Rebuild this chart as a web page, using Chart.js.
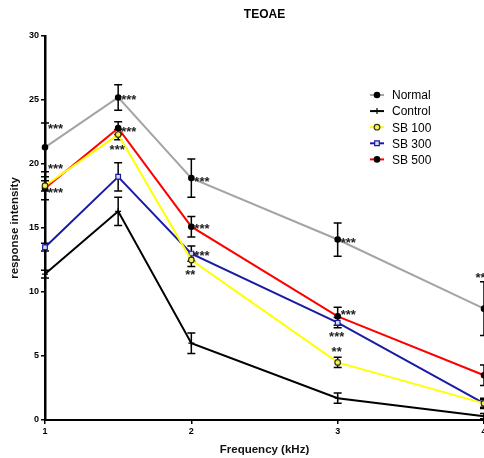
<!DOCTYPE html>
<html>
<head>
<meta charset="utf-8">
<script src="https://cdn.jsdelivr.net/npm/chart.js@4"></script>
<style>
  html, body { margin: 0; padding: 0; background: #fff; overflow: hidden; }
  #wrap { width: 494px; height: 458px; }
</style>
</head>
<body>
<div id="wrap"><canvas id="teoae-chart" width="494" height="458"></canvas></div>
<script>
// Frequencies (kHz) and group means / SEM
const freqs = [1, 1.5, 2, 3, 4];
const normal = [21.3, 25.2, 18.9, 14.1, 8.7];
const normalErr = [1.9, 1.0, 1.5, 1.3, 2.1];
const control = [11.4, 16.3, 6.0, 1.7, 0.3];
const controlErr = [0.3, 1.1, 0.8, 0.4, 0.2];
const sb100 = [18.3, 22.3, 12.5, 4.5, 1.3];
const sb100Err = [0.4, 0.4, 0.5, 0.4, 0.3];
const sb300 = [13.5, 19.0, 13.0, 7.6, 1.3];
const sb300Err = [0.3, 1.1, 0.6, 0.4, 0.4];
const sb500 = [18.1, 22.8, 15.1, 8.1, 3.5];
const sb500Err = [0.9, 0.5, 0.8, 0.7, 0.8];

const seriesNames = ['Normal', 'Control', 'SB 100', 'SB 300', 'SB 500'];
const yTicks = [0, 5, 10, 15, 20, 25, 30];
const xTicks = [1, 2, 3, 4];

// significance marks
const starX = [1, 1, 1, 1.5, 1.5, 1.5, 2, 2, 2, 2, 3, 3, 3, 3, 4];
const starY = [23.0, 19.9, 18.0, 25.3, 22.8, 21.4, 18.9, 15.2, 13.1, 11.6, 14.1, 8.5, 6.8, 5.6, 11.4];
const starText = ['***', '***', '***', '***', '***', '***', '***', '***', '***', '**', '***', '***', '***', '**', '***'];
const starSide = ['right', 'right', 'right', 'right', 'right', 'below', 'right', 'right', 'right', 'below', 'right', 'right', 'below', 'below', 'below'];

const FONT = "'Liberation Sans', Arial, sans-serif";

const toXY = (ys) => ys.map((y, i) => ({ x: freqs[i], y }));

const styles = [
    { color: '#a4a4a4', point: 'circle', bg: '#000', border: '#000', r: 2.7 },
    { color: '#000000', point: 'cross', bg: '#000', border: '#000', r: 3 },
    { color: '#ffff00', point: 'circle', bg: '#f4f060', border: '#333300', r: 2.8 },
    { color: '#1a1aa6', point: 'rect', bg: '#d8d8f0', border: '#1a1aa6', r: 3.3 },
    { color: '#ff0000', point: 'circle', bg: '#000', border: '#000', r: 2.7 }
];
const values = [normal, control, sb100, sb300, sb500];
const errors = [normalErr, controlErr, sb100Err, sb300Err, sb500Err];

const datasets = values.map((vals, idx) => ({
    label: seriesNames[idx],
    data: toXY(vals),
    errs: errors[idx],
    borderColor: styles[idx].color,
    borderWidth: 2,
    pointStyle: styles[idx].point,
    pointRadius: styles[idx].r,
    pointBackgroundColor: styles[idx].bg,
    pointBorderColor: styles[idx].border,
    pointBorderWidth: 1.2,
    tension: 0,
    clip: false
}));

const errorBars = {
    id: 'errorBars',
    beforeDatasetsDraw(chart) {
        const { ctx, scales: { x, y } } = chart;
        ctx.save();
        ctx.strokeStyle = '#000';
        ctx.lineWidth = 1.5;
        chart.data.datasets.forEach(ds => {
            ds.data.forEach((p, i) => {
                const e = ds.errs[i];
                const px = x.getPixelForValue(p.x);
                const top = y.getPixelForValue(p.y + e);
                const bot = y.getPixelForValue(Math.max(0, p.y - e));
                ctx.beginPath();
                ctx.moveTo(px, top); ctx.lineTo(px, bot);
                ctx.moveTo(px - 4, top); ctx.lineTo(px + 4, top);
                ctx.moveTo(px - 4, bot); ctx.lineTo(px + 4, bot);
                ctx.stroke();
            });
        });
        ctx.restore();
    }
};

const starMarks = {
    id: 'starMarks',
    afterDatasetsDraw(chart) {
        const { ctx, scales: { x, y } } = chart;
        ctx.save();
        ctx.fillStyle = '#222';
        ctx.font = `bold 13px ${FONT}`;
        ctx.textBaseline = 'middle';
        starX.forEach((sx, i) => {
            const px = x.getPixelForValue(sx);
            const py = y.getPixelForValue(starY[i]);
            if (starSide[i] === 'right') {
                ctx.textAlign = 'left';
                ctx.fillText(starText[i], px + 3, py + 4);
            } else {
                ctx.textAlign = 'center';
                ctx.fillText(starText[i], px - 1, py + 4);
            }
        });
        ctx.restore();
    }
};

const insetLegend = {
    id: 'insetLegend',
    afterDraw(chart) {
        const { ctx } = chart;
        const lx = 370, ly = 95, step = 16.1;
        ctx.save();
        ctx.font = `12px ${FONT}`;
        ctx.textBaseline = 'middle';
        ctx.textAlign = 'left';
        chart.data.datasets.forEach((ds, i) => {
            const yy = ly + i * step;
            ctx.strokeStyle = ds.borderColor;
            ctx.lineWidth = 2;
            ctx.beginPath();
            ctx.moveTo(lx, yy); ctx.lineTo(lx + 14, yy);
            ctx.stroke();
            ctx.fillStyle = ds.pointBackgroundColor;
            ctx.strokeStyle = ds.pointBorderColor;
            ctx.lineWidth = 1.2;
            Chart.helpers.drawPoint(ctx, { pointStyle: ds.pointStyle, radius: ds.pointRadius, borderWidth: 1.2, rotation: 0 }, lx + 7, yy);
            ctx.fillStyle = '#000';
            ctx.fillText(ds.label, lx + 22, yy + 1);
        });
        ctx.restore();
    }
};

new Chart(document.getElementById('teoae-chart'), {
    type: 'line',
    data: { datasets },
    plugins: [errorBars, starMarks, insetLegend],
    options: {
        responsive: false,
        animation: false,
        layout: { padding: { left: 0, right: 10, top: 0, bottom: 0 } },
        plugins: {
            legend: { display: false },
            tooltip: { enabled: false },
            title: {
                display: true,
                text: 'TEOAE',
                fullSize: false,
                color: '#000',
                font: { family: FONT, size: 12, weight: 'bold' },
                padding: { top: 7, bottom: 14.6 }
            }
        },
        scales: {
            x: {
                type: 'linear',
                min: 1,
                max: 4,
                afterFit: (s) => { s.height = 38; },
                afterBuildTicks: (s) => { s.ticks = xTicks.map(v => ({ value: v })); },
                ticks: { color: '#000', padding: 2, font: { family: FONT, size: 9, weight: 'bold' } },
                grid: { display: true, drawOnChartArea: false, drawTicks: true, tickLength: 4, color: '#000', lineWidth: 1.5 },
                border: { display: true, color: '#000', width: 2 },
                title: { display: true, text: 'Frequency (kHz)', color: '#111', font: { family: FONT, size: 11.5, weight: 'bold' }, padding: { top: 0, bottom: 1 } }
            },
            y: {
                type: 'linear',
                min: 0,
                max: 30,
                afterFit: (s) => { s.width = 45; },
                afterBuildTicks: (s) => { s.ticks = yTicks.map(v => ({ value: v })); },
                ticks: { color: '#000', padding: 2, font: { family: FONT, size: 9, weight: 'bold' } },
                grid: { display: true, drawOnChartArea: false, drawTicks: true, tickLength: 4, color: '#000', lineWidth: 1.5 },
                border: { display: true, color: '#000', width: 2.5 },
                title: { display: true, text: 'response intensity', color: '#111', font: { family: FONT, size: 11.5, weight: 'bold' }, padding: { top: 8, bottom: 0 } }
            }
        }
    }
});
</script>
</body>
</html>
